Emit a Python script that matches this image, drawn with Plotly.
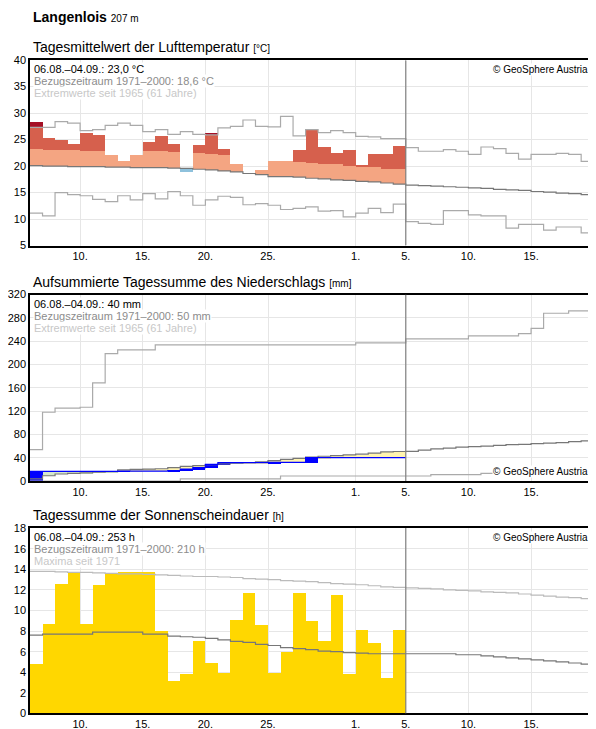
import plotly.graph_objects as go

# days since 06.08. (index 0); observations run to 04.09. (index 29), climate to 19.09.
temp_obs = [28.3, 25.3, 24.9, 24.1, 26.2, 25.8, 22.1, 20.9, 22.1, 24.6, 25.6, 24.1, 18.9, 24.0, 26.1,
            23.2, 20.3, 18.6, 19.2, 20.9, 20.9, 23.1, 26.8, 23.5, 22.4, 23.1, 20.1, 22.3, 22.3, 23.8]
temp_upper = [23.2, 23.0, 23.0, 23.0, 22.8, 22.8, 22.8, 22.7, 22.7, 22.8, 22.8, 22.6, 22.5, 22.4, 22.3,
              22.1, 22.0, 21.8, 21.6, 21.4, 21.2, 20.7, 20.6, 20.4, 20.3, 20.0, 19.9, 19.8, 19.5, 19.4]
temp_mean = [20.1, 20.0, 20.0, 19.9, 19.9, 19.9, 19.8, 19.8, 19.7, 19.7, 19.7, 19.6, 19.55, 19.4, 19.3,
             19.1, 18.9, 18.6, 18.4, 18.0, 18.0, 17.9, 17.7, 17.6, 17.4, 17.3, 17.1, 17.0, 16.8, 16.6,
             16.4, 16.3, 16.2, 16.1, 16.0, 15.9, 15.8, 15.6, 15.5, 15.4, 15.2, 15.1, 14.9, 14.8, 14.6]
temp_max = [27.3, 27.3, 28.4, 28.1, 26.7, 26.9, 27.7, 28.1, 27.7, 26.5, 26.9, 26.0, 26.5, 26.0, 25.9,
            27.2, 27.5, 28.7, 27.5, 27.4, 29.4, 25.7, 26.9, 26.3, 26.7, 26.3, 25.6, 25.5, 25.2, 25.2,
            23.5, 22.8, 22.8, 23.1, 22.8, 22.2, 23.6, 23.3, 22.4, 21.3, 22.2, 22.2, 22.4, 22.2, 20.9]
temp_min = [11.1, 10.6, 15.0, 14.6, 14.4, 13.7, 13.3, 14.4, 13.6, 14.8, 13.8, 15.2, 14.4, 12.6, 13.6,
            14.3, 14.1, 12.7, 12.9, 12.6, 11.8, 12.0, 12.3, 11.5, 11.6, 10.4, 11.1, 12.0, 11.2, 12.8,
            9.5, 9.2, 9.0, 11.6, 11.6, 10.8, 10.6, 10.6, 8.3, 9.0, 9.0, 7.9, 8.5, 8.5, 7.4]

rain_cum = [16.5] * 7 + [17] * 4 + [18, 20.5, 23, 28.5] + [31.5] * 4 + [32] * 3 + [40] * 8
rain_mean = [3.5, 9, 12, 13, 14, 15, 16, 19, 20, 20.5, 21, 23, 25, 26.5, 28, 29.5, 30.5, 31.6, 33, 35,
             37, 39, 41, 42.5, 43.7, 45, 46, 48, 50, 50.6, 51, 53, 55, 56.5, 58, 59, 60, 61, 62.5, 63,
             64, 65, 66, 67.5, 69]
rain_max = [54, 118, 125, 125, 126.6, 168.6, 218.7, 225, 225, 225] + [233.7] * 16 + [237] * 4 + \
           [244] * 5 + [249] * 4 + [253, 262, 288, 288, 292, 292]
rain_min = [0] * 12 + [3.5] * 8 + [8.6] * 12 + [11] * 4 + [13] * 9

sun_obs = [4.8, 8.7, 12.6, 13.6, 8.7, 12.5, 13.6, 13.7, 13.7, 13.7, 8.0, 3.1, 3.8, 7.0, 4.9,
           3.9, 9.1, 11.7, 8.6, 3.9, 6.0, 11.7, 9.0, 7.0, 11.5, 3.8, 8.1, 6.8, 3.4, 8.1]
sun_mean = [7.6, 7.7, 7.7, 7.7, 7.7, 7.9, 7.9, 7.9, 7.9, 7.7, 7.7, 7.5, 7.45, 7.4, 7.3, 7.15, 7.0,
            6.9, 6.7, 6.6, 6.4, 6.3, 6.2, 6.05, 6.0, 5.9, 5.85, 5.8, 5.8, 5.8, 5.8, 5.8, 5.8, 5.8,
            5.7, 5.7, 5.6, 5.5, 5.4, 5.3, 5.2, 5.1, 5.0, 4.9, 4.8]
sun_max = [13.8, 13.8, 13.75, 13.7, 13.7, 13.65, 13.6, 13.55, 13.55, 13.5, 13.45, 13.4, 13.35, 13.3,
           13.3, 13.25, 13.2, 13.1, 13.05, 13.0, 12.9, 12.85, 12.8, 12.7, 12.6, 12.55, 12.5, 12.4,
           12.3, 12.25, 12.2, 12.15, 12.1, 12.0, 11.95, 11.9, 11.8, 11.75, 11.7, 11.6, 11.5, 11.4,
           11.3, 11.25, 11.15]

tick_days = [4, 9, 14, 19, 26, 30, 35, 40]
tick_text = ["10.", "15.", "20.", "25.", "1.", "5.", "10.", "15."]

FONT = "Liberation Sans, Arial, sans-serif"
# positions are given in screenshot pixels; the page has an 8px body margin and
# the photo comes out slightly shrunk, so map them back to figure pixels
OFF = 8
W, H = 588, 730


def fx(r):
    return 30 + (r - 30) / 0.997 - OFF


def fy(r):
    return 59 + (r - 63) / 0.9816 - OFF


def px(r):
    return fx(r) / W


def py(r):
    return 1 - fy(r) / H


x0, x1 = px(30), min(px(592), 1.0)
panels = [(59, 244), (293, 479), (526, 711)]
doms = [[py(b), py(t)] for t, b in panels]

fig = go.Figure()
n_obs = len(temp_obs)
xc = [i + 0.5 for i in range(n_obs)]


def bars(xa, ya, base, top, color):
    fig.add_trace(go.Bar(x=xc, y=[t - b for b, t in zip(base, top)], base=base, width=1,
                         marker=dict(color=color, line_width=0), xaxis=xa, yaxis=ya,
                         showlegend=False, hoverinfo="skip"))


def step(xa, ya, vals, color, width=1.2):
    fig.add_trace(go.Scatter(x=list(range(len(vals))) + [len(vals)], y=vals + [vals[-1]],
                             mode="lines", line=dict(color=color, width=width, shape="hv"),
                             xaxis=xa, yaxis=ya, showlegend=False, hoverinfo="skip"))


# temperature
lo = temp_mean[:n_obs]
light_top = [max(m, min(t, u)) for t, u, m in zip(temp_obs, temp_upper, lo)]
bars("x", "y", lo, light_top, "#F4A582")
red_base = [min(u, mx) for u, mx in zip(temp_upper, temp_max)]
red_top = [max(rb, min(t, mx)) for t, rb, mx in zip(temp_obs, red_base, temp_max)]
bars("x", "y", red_base, red_top, "#D6604D")
bars("x", "y", temp_max[:n_obs], [max(t, mx) for t, mx in zip(temp_obs, temp_max)], "#A50F25")
bars("x", "y", [min(t, m) for t, m in zip(temp_obs, lo)], lo, "#8EC1DC")
step("x", "y", temp_max, "#AAAAAA")
step("x", "y", temp_min, "#AAAAAA")
step("x", "y", temp_mean, "#777777")

# precipitation
rm = rain_mean[:n_obs]
bars("x2", "y2", [min(c, m) for c, m in zip(rain_cum, rm)], rain_cum, "#D5E8CC")
bars("x2", "y2", rain_cum, [max(c, m) for c, m in zip(rain_cum, rm)], "#FFF4B0")
prev = [0] + rain_cum[:-1]
bars("x2", "y2", prev, rain_cum, "#0000FF")
step("x2", "y2", rain_max, "#AAAAAA")
step("x2", "y2", rain_min, "#AAAAAA")
step("x2", "y2", rain_mean, "#777777")
step("x2", "y2", rain_cum, "#0000FF", 1.2)

# sunshine
bars("x3", "y3", [0] * n_obs, sun_obs, "#FFD700")
step("x3", "y3", sun_max, "#BBBBBB")
step("x3", "y3", sun_mean, "#777777")

ranges = [(5, 40, 5), (0, 320, 40), (0, 18, 2)]
layout = dict(width=W, height=H, margin=dict(l=0, r=0, t=0, b=0), barmode="overlay", bargap=0,
              plot_bgcolor="white", paper_bgcolor="white",
              font=dict(family=FONT, size=11, color="black"))
shapes, annotations = [], []
for k, ((lo_, hi_, dt), dom) in enumerate(zip(ranges, doms)):
    sfx = "" if k == 0 else str(k + 1)
    layout["xaxis" + sfx] = dict(domain=[x0, x1], range=[0, 45], tickvals=tick_days, ticktext=tick_text,
                                 showgrid=True, gridcolor="#E6E6E6", zeroline=False, showline=True,
                                 linecolor="black", linewidth=1.5, mirror=True, ticks="",
                                 anchor="y" + sfx, tickfont=dict(size=11))
    layout["yaxis" + sfx] = dict(domain=dom, range=[lo_, hi_], dtick=dt, showgrid=True,
                                 gridcolor="#E6E6E6", zeroline=False, showline=True, linecolor="black",
                                 linewidth=1.5, mirror=True, ticks="", anchor="x" + sfx,
                                 tickfont=dict(size=11))
    shapes.append(dict(type="line", xref="x" + sfx, yref="y" + sfx, x0=30, x1=30, y0=lo_, y1=hi_,
                       line=dict(color="#808080", width=1.2)))

titles = ["Tagesmittelwert der Lufttemperatur <span style='font-size:10px'>[°C]</span>",
          "Aufsummierte Tagessumme des Niederschlags <span style='font-size:10px'>[mm]</span>",
          "Tagessumme der Sonnenscheindauer <span style='font-size:10px'>[h]</span>"]
info = [["06.08.–04.09.: 23,0 °C", "Bezugszeitraum 1971–2000: 18,6 °C", "Extremwerte seit 1965 (61 Jahre)"],
        ["06.08.–04.09.: 40 mm", "Bezugszeitraum 1971–2000: 50 mm", "Extremwerte seit 1965 (61 Jahre)"],
        ["06.08.–04.09.: 253 h", "Bezugszeitraum 1971–2000: 210 h", "Maxima seit 1971"]]
colors = ["black", "#8C8C8C", "#C8C8C8"]
for k, (t, b) in enumerate(panels):
    annotations.append(dict(text=titles[k], xref="paper", yref="paper", x=px(31), y=py(t - 13),
                            xanchor="left", yanchor="middle", showarrow=False,
                            font=dict(size=14, color="black")))
    for j, line in enumerate(info[k]):
        annotations.append(dict(text=line, xref="paper", yref="paper", x=px(33), y=py(t + 9 + 12 * j),
                                xanchor="left", yanchor="middle", showarrow=False, bgcolor="white",
                                borderpad=0, font=dict(size=11, color=colors[j])))
    cy = t + 9 if k != 1 else b - 9
    annotations.append(dict(text="© GeoSphere Austria", xref="paper", yref="paper", x=px(587), y=py(cy),
                            xanchor="right", yanchor="middle", showarrow=False, bgcolor="white",
                            borderpad=0, font=dict(size=10, color="black")))

annotations.append(dict(text="<b>Langenlois</b> <span style='font-size:10px'>207 m</span>", xref="paper",
                        yref="paper", x=px(31), y=py(16), xanchor="left", yanchor="middle",
                        showarrow=False, font=dict(size=14, color="black")))

layout["shapes"] = shapes
layout["annotations"] = annotations
fig.update_layout(**layout)
fig.write_html("out.html")
